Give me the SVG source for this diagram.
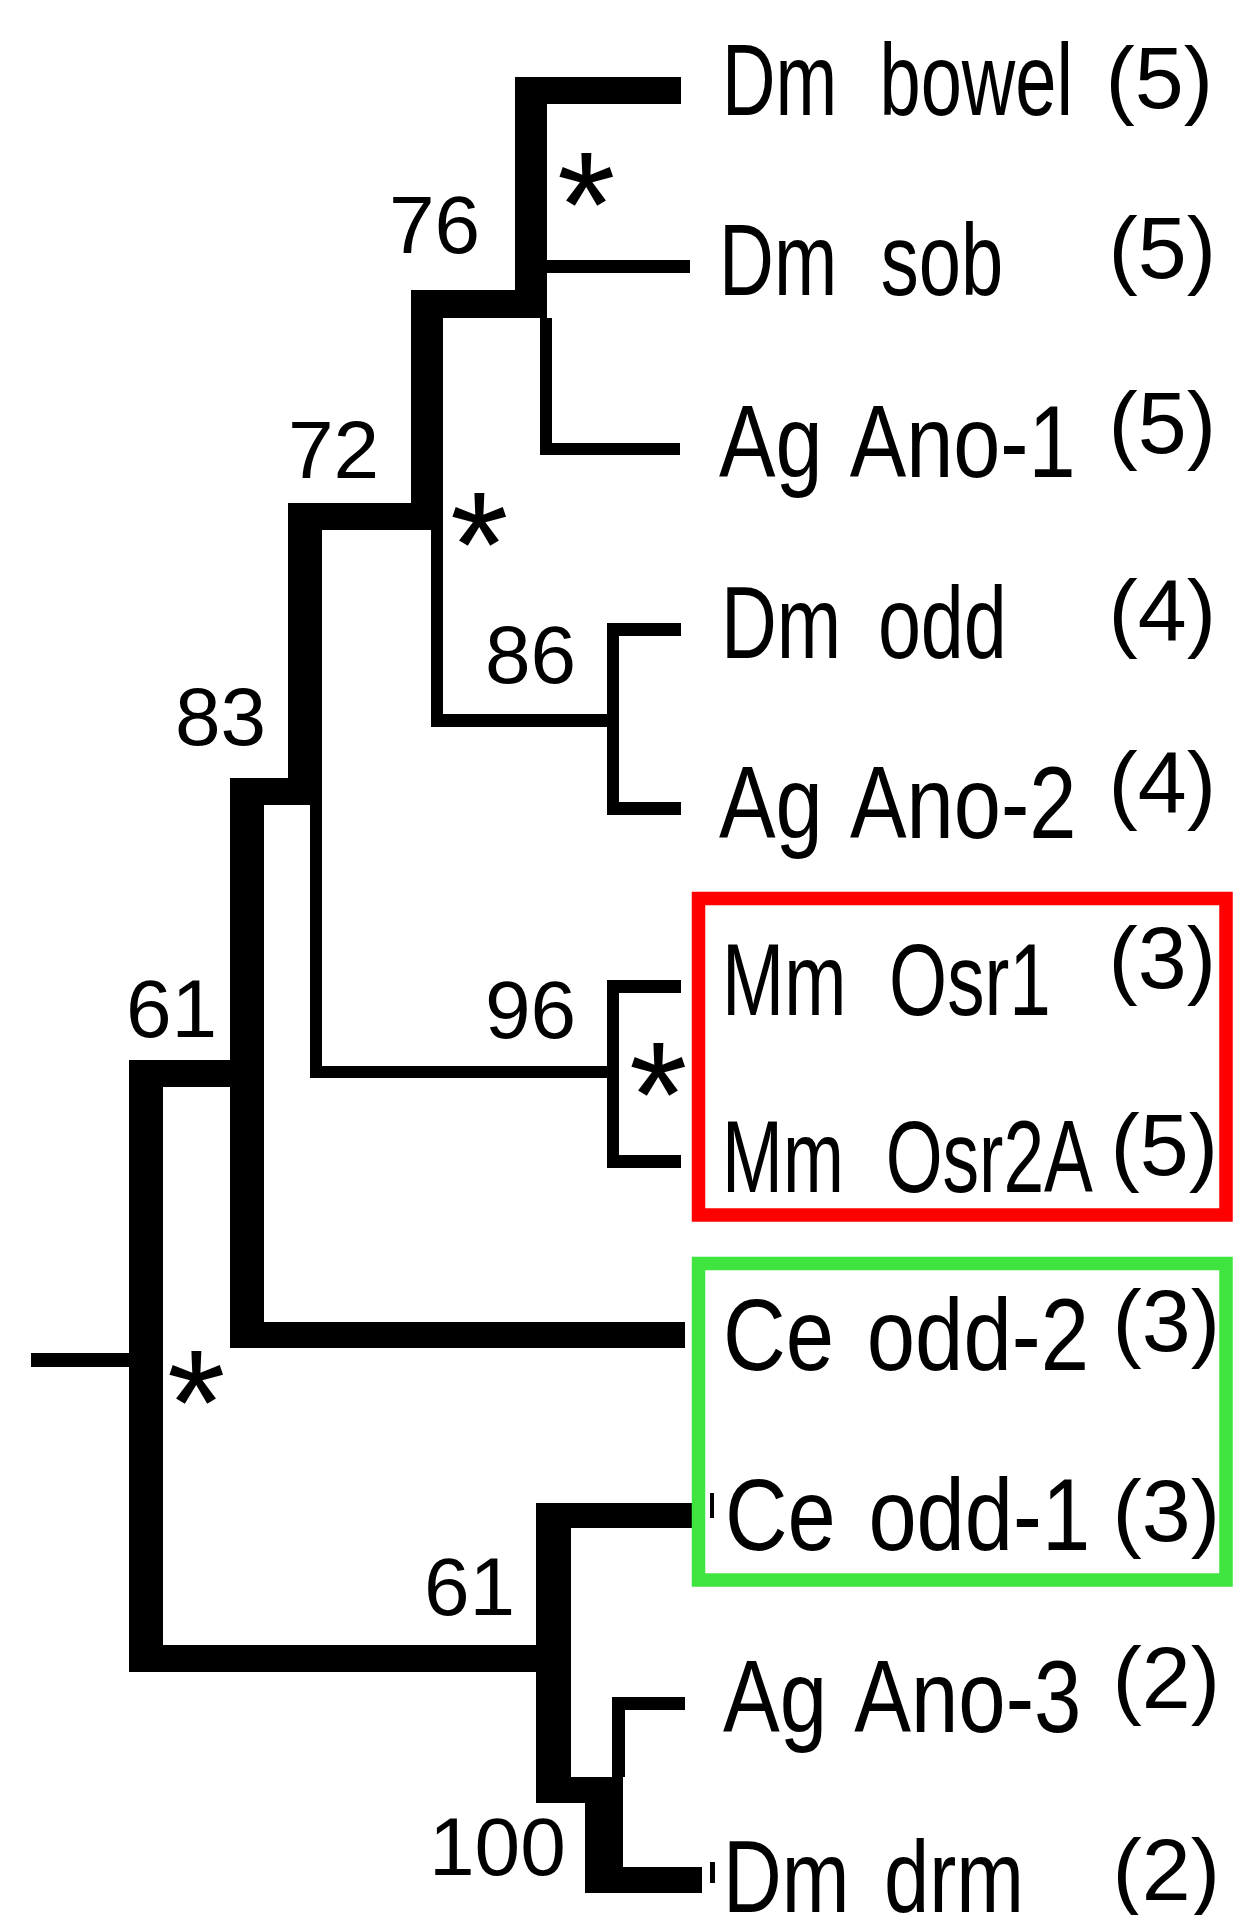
<svg xmlns="http://www.w3.org/2000/svg" width="1238" height="1915" viewBox="0 0 1238 1915">
<style>
text{font-family:"Liberation Sans",Arial,sans-serif;fill:#000}
.lab{font-size:102px;word-spacing:30px}
.ws10{word-spacing:10px}
.ws15{word-spacing:15px}
.ws20{word-spacing:20px}
.cnt{font-size:88px;text-anchor:end}
.bs{font-size:82px}
.star{font-size:150px}
.br rect{fill:#000}
.box{fill:none;stroke-width:13.5}
</style>
<rect width="1238" height="1915" fill="#fff"/>
<g id="connectors" class="br">
<rect x="515" y="77" width="32" height="241"/>
<rect x="515" y="77" width="166" height="27"/>
<rect x="547" y="260" width="143" height="13"/>
<rect x="540" y="318" width="12" height="137"/>
<rect x="540" y="443" width="140" height="12"/>
<rect x="411" y="290" width="136" height="28"/>
<rect x="411" y="290" width="32" height="240"/>
<rect x="431" y="530" width="12" height="197"/>
<rect x="431" y="714" width="188" height="13"/>
<rect x="607" y="623" width="12" height="192"/>
<rect x="607" y="623" width="74" height="13"/>
<rect x="607" y="802" width="74" height="13"/>
<rect x="288" y="503" width="155" height="27"/>
<rect x="288" y="503" width="34" height="302"/>
<rect x="310" y="805" width="12" height="273"/>
<rect x="310" y="1066" width="309" height="12"/>
<rect x="607" y="980" width="12" height="188"/>
<rect x="607" y="980" width="74" height="13"/>
<rect x="607" y="1155" width="74" height="13"/>
<rect x="230" y="778" width="92" height="27"/>
<rect x="230" y="778" width="34" height="570"/>
<rect x="230" y="1322" width="455" height="26"/>
<rect x="129" y="1060" width="135" height="27"/>
<rect x="129" y="1060" width="34" height="612"/>
<rect x="31" y="1353" width="98" height="14"/>
<rect x="129" y="1645" width="442" height="27"/>
<rect x="536" y="1503" width="35" height="300"/>
<rect x="536" y="1503" width="156" height="25"/>
<rect x="536" y="1777" width="87" height="26"/>
<rect x="585" y="1777" width="38" height="116"/>
<rect x="612" y="1697" width="13" height="80"/>
<rect x="612" y="1697" width="73" height="13"/>
<rect x="585" y="1867" width="117" height="26"/>
<rect x="710" y="1493" width="4" height="25"/>
<rect x="710" y="1862" width="5" height="21"/>
</g>
<g id="boxes">
<rect class="box" x="698.5" y="898.5" width="527.5" height="316.5" stroke="#ff0000"/>
<rect class="box" x="698.5" y="1263.5" width="527.5" height="316.5" stroke="#3fe43f"/>
</g>
<g id="node-76"><text class="bs" x="389" y="253">76</text></g>
<g id="node-bowel-sob"><text class="star" x="557" y="257">*</text></g>
<g id="node-72"><text class="bs" x="288" y="478">72</text><text class="star" x="450" y="597">*</text></g>
<g id="node-86"><text class="bs" x="485" y="683">86</text></g>
<g id="node-83"><text class="bs" x="175" y="745">83</text></g>
<g id="node-96"><text class="bs" x="485" y="1038">96</text><text class="star" x="629" y="1147">*</text></g>
<g id="node-61a"><text class="bs" x="126" y="1037">61</text></g>
<g id="node-root"><text class="star" x="167" y="1455">*</text></g>
<g id="node-61b"><text class="bs" x="424" y="1615">61</text></g>
<g id="node-100"><text class="bs" x="429" y="1875">100</text></g>
<g id="leaf-dm-bowel"><text class="lab" transform="translate(722,115) scale(0.726,1)">Dm bowel</text><text class="cnt" x="1213" y="108">(5)</text></g>
<g id="leaf-dm-sob"><text class="lab" transform="translate(719,295) scale(0.745,1)">Dm sob</text><text class="cnt" x="1216" y="278">(5)</text></g>
<g id="leaf-ag-ano1"><text class="lab ws10" transform="translate(719,477) scale(0.830,1)">Ag Ano-1</text><text class="cnt" x="1216" y="453">(5)</text></g>
<g id="leaf-dm-odd"><text class="lab ws20" transform="translate(721,658) scale(0.758,1)">Dm odd</text><text class="cnt" x="1216" y="641">(4)</text></g>
<g id="leaf-ag-ano2"><text class="lab ws10" transform="translate(719,838) scale(0.832,1)">Ag Ano-2</text><text class="cnt" x="1216" y="813">(4)</text></g>
<g id="leaf-mm-osr1"><text class="lab" transform="translate(722,1015) scale(0.732,1)">Mm Osr1</text><text class="cnt" x="1216" y="988">(3)</text></g>
<g id="leaf-mm-osr2a"><text class="lab" transform="translate(722,1192) scale(0.717,1)">Mm Osr2A</text><text class="cnt" x="1218" y="1175">(5)</text></g>
<g id="leaf-ce-odd2"><text class="lab ws10" transform="translate(723,1370) scale(0.852,1)">Ce odd-2</text><text class="cnt" x="1220" y="1351">(3)</text></g>
<g id="leaf-ce-odd1"><text class="lab ws10" transform="translate(725,1550) scale(0.850,1)">Ce odd-1</text><text class="cnt" x="1220" y="1541">(3)</text></g>
<g id="leaf-ag-ano3"><text class="lab ws10" transform="translate(723,1732) scale(0.834,1)">Ag Ano-3</text><text class="cnt" x="1220" y="1708">(2)</text></g>
<g id="leaf-dm-drm"><text class="lab ws15" transform="translate(723,1912) scale(0.797,1)">Dm drm</text><text class="cnt" x="1220" y="1900">(2)</text></g>
</svg>
